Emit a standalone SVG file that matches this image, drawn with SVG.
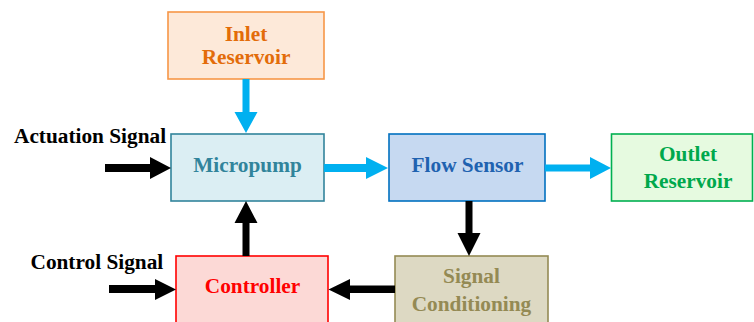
<svg xmlns="http://www.w3.org/2000/svg" width="754" height="322" viewBox="0 0 754 322">
<style>
text{font-family:"Liberation Serif","Times New Roman",serif;font-weight:bold;font-size:21.3px;text-anchor:middle}
.box{stroke-width:1.6}
.lbl{text-anchor:start;fill:#000}
.flow{fill:#00b0f0}
.sig{fill:#000}
</style>
<rect width="754" height="322" fill="#fff"/>
<g id="inlet-reservoir">
<rect class="box" x="168" y="12" width="156" height="67" fill="#fde9d9" stroke="#f79646"/>
<text x="246" y="41" fill="#e36c09">Inlet</text>
<text x="246" y="64" fill="#e36c09">Reservoir</text>
</g>
<g id="micropump">
<rect class="box" x="171" y="134" width="153" height="67" fill="#dbeef3" stroke="#31849b"/>
<text x="247.5" y="172" fill="#31849b">Micropump</text>
</g>
<g id="flow-sensor">
<rect class="box" x="389" y="134" width="156" height="67" fill="#c6d9f1" stroke="#0070c0"/>
<text x="467.5" y="172" fill="#1f62b0">Flow Sensor</text>
</g>
<g id="outlet-reservoir">
<rect class="box" x="611.5" y="134" width="141" height="67" fill="#e6fae0" stroke="#00b050"/>
<text x="688" y="161" fill="#00a84c">Outlet</text>
<text x="688" y="188" fill="#00a84c">Reservoir</text>
</g>
<g id="controller">
<rect class="box" x="176" y="256" width="152" height="68" fill="#fcd9d6" stroke="#ff0000"/>
<text x="252.5" y="293" fill="#ff0000">Controller</text>
</g>
<g id="signal-conditioning">
<rect class="box" x="395" y="256" width="153" height="68" fill="#ddd9c3" stroke="#948a54"/>
<text x="471.5" y="282.5" fill="#948a54">Signal</text>
<text x="471.5" y="310.5" fill="#948a54">Conditioning</text>
</g>
<g id="labels">
<text class="lbl" x="14" y="143">Actuation Signal</text>
<text class="lbl" x="30.5" y="269">Control Signal</text>
</g>
<g id="connectors">
<!-- inlet to micropump -->
<polygon class="flow" points="242.5,79 249.5,79 249.5,112 257.5,112 246,133 234.5,112 242.5,112"/>
<!-- micropump to flow sensor -->
<polygon class="flow" points="324,164 366,164 366,157 388,168 366,179 366,172 324,172"/>
<!-- flow sensor to outlet -->
<polygon class="flow" points="545,164.5 590,164.5 590,157 611,168 590,179 590,171.5 545,171.5"/>
<!-- actuation signal into micropump -->
<polygon class="sig" points="105,164 150,164 150,157 171,168 150,179 150,172 105,172"/>
<!-- controller up to micropump -->
<polygon class="sig" points="242.5,256 249.5,256 249.5,223 257.5,223 246,201 234.5,223 242.5,223"/>
<!-- flow sensor down to signal conditioning -->
<polygon class="sig" points="465.5,201 472.5,201 472.5,233 480.5,233 469,256 457.5,233 465.5,233"/>
<!-- control signal into controller -->
<polygon class="sig" points="109,285 155,285 155,279 176,289.5 155,300 155,293 109,293"/>
<!-- signal conditioning to controller -->
<polygon class="sig" points="395,285.5 350,285.5 350,279 328.5,289.5 350,300 350,293 395,293"/>
</g>
</svg>
